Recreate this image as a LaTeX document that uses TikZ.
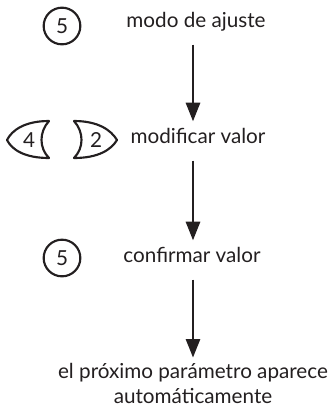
\documentclass[tikz,border=0pt]{standalone}
\usepackage{fontspec}
\setmainfont{Lato}
\usepackage{tikz}
\usetikzlibrary{positioning,arrows.meta}
\usepackage{xcolor}
\definecolor{ink}{HTML}{231F20}

\begin{document}
\begin{tikzpicture}[x=0.75pt,y=-0.75pt,
                    every node/.style={font=\fontsize{15.5}{18.5}\selectfont, text=ink},
                    stepname/.style={anchor=base, inner sep=0pt, text height=10pt, text depth=3pt},
                    flow/.style={-{Triangle[length=14pt,width=10.5pt]}, line width=2.1pt, draw=ink,
                                 shorten <=10pt, shorten >=6pt},
                    keyround/.style={draw=ink, circle, line width=1.6pt, minimum size=27.5pt, inner sep=0pt},
                    keyside/.style={draw=ink, line width=1.6pt, line join=round}]
                \useasboundingbox (0,0) rectangle (328,408);
                \coordinate (axis) at (193,0);

                % Step 1: setting mode
                \node[keyround] (keyA) at (62,26) {5};
                \node[stepname] (mode) at (196,27) {modo de ajuste};

                % Step 2: change the value
                \draw[keyside] (49,121) .. controls (25,121) and (12,130) .. (7,140)
                               .. controls (12,150) and (25,158) .. (49,158)
                               .. controls (39,148) and (39,132) .. cycle;
                \node (keyL) at (29,140) {4};
                \draw[keyside] (74,121) .. controls (98,121) and (111,130) .. (117,140)
                               .. controls (111,150) and (98,158) .. (74,158)
                               .. controls (84,148) and (84,132) .. cycle;
                \node (keyR) at (96,140) {2};
                \node[stepname] (modify) at (198,143) {modificar valor};
                \draw[flow] (mode.south -| axis) -- (modify.north -| axis);

                % Step 3: confirm
                \node[keyround] (keyB) at (62,258) {5};
                \node[stepname] (confirm) at (192,262) {confirmar valor};
                \draw[flow] (modify.south -| axis) -- (confirm.north -| axis);

                % Result
                \node[align=center, anchor=north, inner sep=0pt] (next) at (193,363)
                     {el próximo parámetro aparece\\automáticamente};
                \draw[flow, shorten >=4pt] (confirm.south -| axis) -- (next.north -| axis);
            \end{tikzpicture}
\end{document}
